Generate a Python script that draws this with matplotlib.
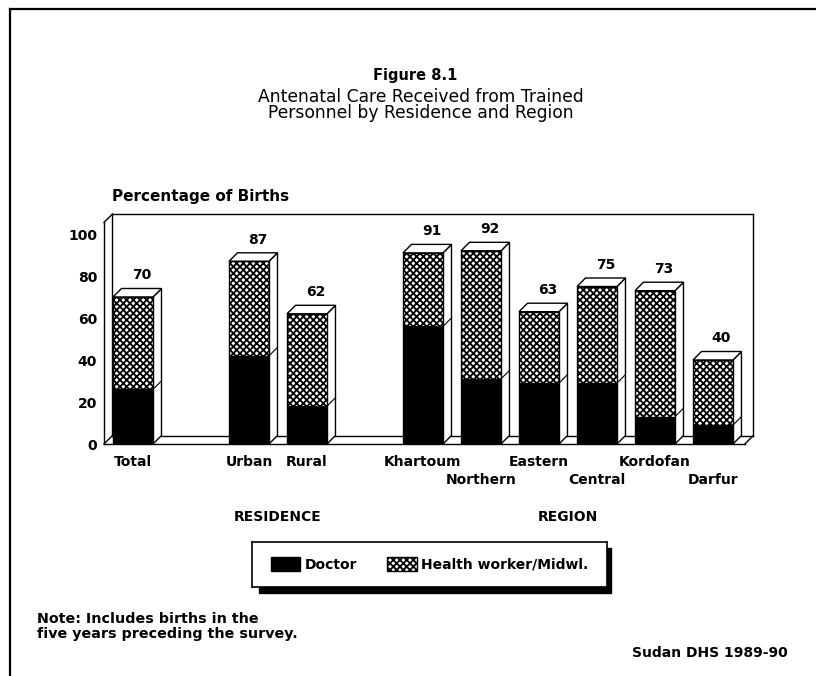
import matplotlib
matplotlib.use('Agg')
import matplotlib.pyplot as plt
from matplotlib.lines import Line2D
from matplotlib.patches import Rectangle

# data (percent of births)
categories = ['Total', 'Urban', 'Rural', 'Khartoum', 'Northern',
              'Eastern', 'Central', 'Kordofan', 'Darfur']
positions = [0, 2, 3, 5, 6, 7, 8, 9, 10]
label_rows = [0, 0, 0, 0, 1, 0, 1, 0, 1]
doctor = [26, 42, 18, 56, 31, 29, 29, 13, 9]
health_worker = [44, 45, 44, 35, 61, 34, 46, 60, 31]
totals = [70, 87, 62, 91, 92, 63, 75, 73, 40]
group_names = ['RESIDENCE', 'REGION']
group_members = [[1, 2], [3, 4, 5, 6, 7, 8]]
yticks = [0, 20, 40, 60, 80, 100]

W, H = 816, 676
plt.rcParams['hatch.linewidth'] = 1.3
plt.rcParams['font.family'] = 'DejaVu Sans'

fig = plt.figure(figsize=(W / 100, H / 100), dpi=100)
ax = fig.add_axes([104 / W, 1 - 444 / H, 661 / W, 235.2 / H])
ax.set_xlim(-0.5, 10.897)
ax.set_ylim(0, 112)
for s in ax.spines.values():
    s.set_visible(False)

# 3-D look: depth offset in data units
ddx = 8.5 / 58
ddy = 8.5 / 2.1
bw = 40 / 58
x0, x1, wall_h = -0.5, 10.55, 105.5

# walls and floor
kw = dict(color='black', lw=1.0, clip_on=False, zorder=1)
ax.plot([x0, x1], [0, 0], **kw)
ax.plot([x0 + ddx, x1 + ddx], [ddy, ddy], **kw)
ax.plot([x0, x0 + ddx], [0, ddy], **kw)
ax.plot([x1, x1 + ddx], [0, ddy], **kw)
ax.plot([x0, x0], [0, wall_h], **kw)
ax.plot([x0 + ddx, x0 + ddx], [ddy, wall_h + ddy], **kw)
ax.plot([x0, x0 + ddx], [wall_h, wall_h + ddy], **kw)
ax.plot([x0 + ddx, x1 + ddx], [wall_h + ddy, wall_h + ddy], **kw)
ax.plot([x1 + ddx, x1 + ddx], [ddy, wall_h + ddy], **kw)

# front faces
b_doc = ax.bar(positions, doctor, width=bw, color='black', edgecolor='black',
               lw=1, zorder=3)
b_hw = ax.bar(positions, health_worker, bottom=doctor, width=bw,
              facecolor='white', edgecolor='black', hatch='xxxxx', lw=1, zorder=3)

# side and top faces
for x, d, t in zip(positions, doctor, totals):
    r = x + bw / 2
    l = x - bw / 2
    ax.fill([r, r + ddx, r + ddx, r], [0, ddy, t + ddy, t],
            facecolor='white', edgecolor='black', lw=1, zorder=2)
    ax.plot([r, r + ddx], [d, d + ddy], color='black', lw=0.8, zorder=2)
    ax.fill([l, l + ddx, r + ddx, r], [t, t + ddy, t + ddy, t],
            facecolor='white', edgecolor='black', lw=1, zorder=2)
    ax.annotate(str(t), (x + ddx, t + ddy), xytext=(0, 4.5),
                textcoords='offset points', ha='center', va='bottom',
                fontsize=10, fontweight='bold')

# axis labels
ax.set_xticks([])
ax.set_yticks(yticks)
ax.tick_params(axis='y', length=0, pad=5, labelsize=10)
for lbl in ax.get_yticklabels():
    lbl.set_fontweight('bold')

for x, name, row in zip(positions, categories, label_rows):
    ax.annotate(name, (x, 0), xytext=(0, -13 - 13 * row), textcoords='offset points',
                ha='center', va='center', fontsize=10, fontweight='bold')

for name, members in zip(group_names, group_members):
    gx = sum(positions[i] for i in members) / len(members)
    ax.annotate(name, (gx, 0), xytext=(0, -52.6), textcoords='offset points',
                ha='center', va='center', fontsize=10, fontweight='bold')

# titles and notes
fig.text(415 / W, 1 - 80 / H, 'Figure 8.1', ha='center', va='baseline',
         fontsize=10.5, fontweight='bold')
fig.text(421 / W, 1 - 101.7 / H, 'Antenatal Care Received from Trained',
         ha='center', va='baseline', fontsize=12.3)
fig.text(421 / W, 1 - 118.3 / H, 'Personnel by Residence and Region',
         ha='center', va='baseline', fontsize=12.3)
fig.text(112 / W, 1 - 200.7 / H, 'Percentage of Births', ha='left', va='baseline',
         fontsize=11, fontweight='bold')
fig.text(37 / W, 1 - 623 / H, 'Note: Includes births in the', ha='left',
         va='baseline', fontsize=10.3, fontweight='bold')
fig.text(37 / W, 1 - 638 / H, 'five years preceding the survey.', ha='left',
         va='baseline', fontsize=10.3, fontweight='bold')
fig.text(788 / W, 1 - 657 / H, 'Sudan DHS 1989-90', ha='right', va='baseline',
         fontsize=10, fontweight='bold')

# legend box with a solid drop shadow
fig.add_artist(Rectangle((259 / W, 1 - 593 / H), 352 / W, 45 / H,
                         transform=fig.transFigure, color='black', zorder=-1))
lax = fig.add_axes([252 / W, 1 - 587 / H, 355 / W, 45 / H])
lax.set_xticks([])
lax.set_yticks([])
for s in lax.spines.values():
    s.set_linewidth(1.2)
lax.legend([b_doc, b_hw], ['Doctor', 'Health worker/Midwl.'], loc='center', ncol=2,
           frameon=False, handlelength=2.1, handleheight=1.2, handletextpad=0.3,
           columnspacing=2.2, prop=dict(size=10, weight='bold'))

# page frame
fig.add_artist(Line2D([10 / W, 10 / W], [0, 1 - 9 / H], color='black', lw=1.6))
fig.add_artist(Line2D([10 / W, 1], [1 - 9 / H, 1 - 9 / H], color='black', lw=1.6))

fig.savefig('out.png', dpi=100)
